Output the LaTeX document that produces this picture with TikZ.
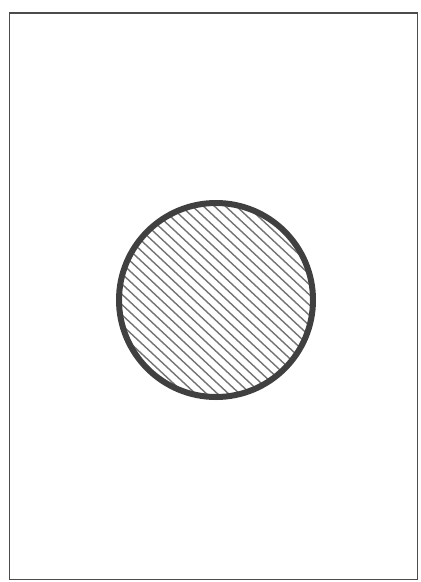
\documentclass[tikz,border=0pt]{standalone}
\usetikzlibrary{calc}
\begin{document}
\begin{tikzpicture}[x=1pt,y=-1pt,
  frame/.style={draw=black!70,line width=1.8pt},
  ring/.style={draw=black!75,line width=6pt},
  hatch/.style={draw=black!55,line width=1.4pt}]
\useasboundingbox (0,0) rectangle (421,582);
\draw[frame] (9.5,13) rectangle (417.5,579.5);
\coordinate (c) at (216,300);
\begin{scope}
  \clip (c) circle[radius=97];
  \foreach \d in {-105,-97.5,...,105}{
    \draw[hatch] ($(c)+({-\d*sin(43)-120*cos(43)},{\d*cos(43)-120*sin(43)})$)
      -- ($(c)+({-\d*sin(43)+120*cos(43)},{\d*cos(43)+120*sin(43)})$);
  }
\end{scope}
\draw[ring] (c) circle[radius=97];
\end{tikzpicture}
\end{document}
